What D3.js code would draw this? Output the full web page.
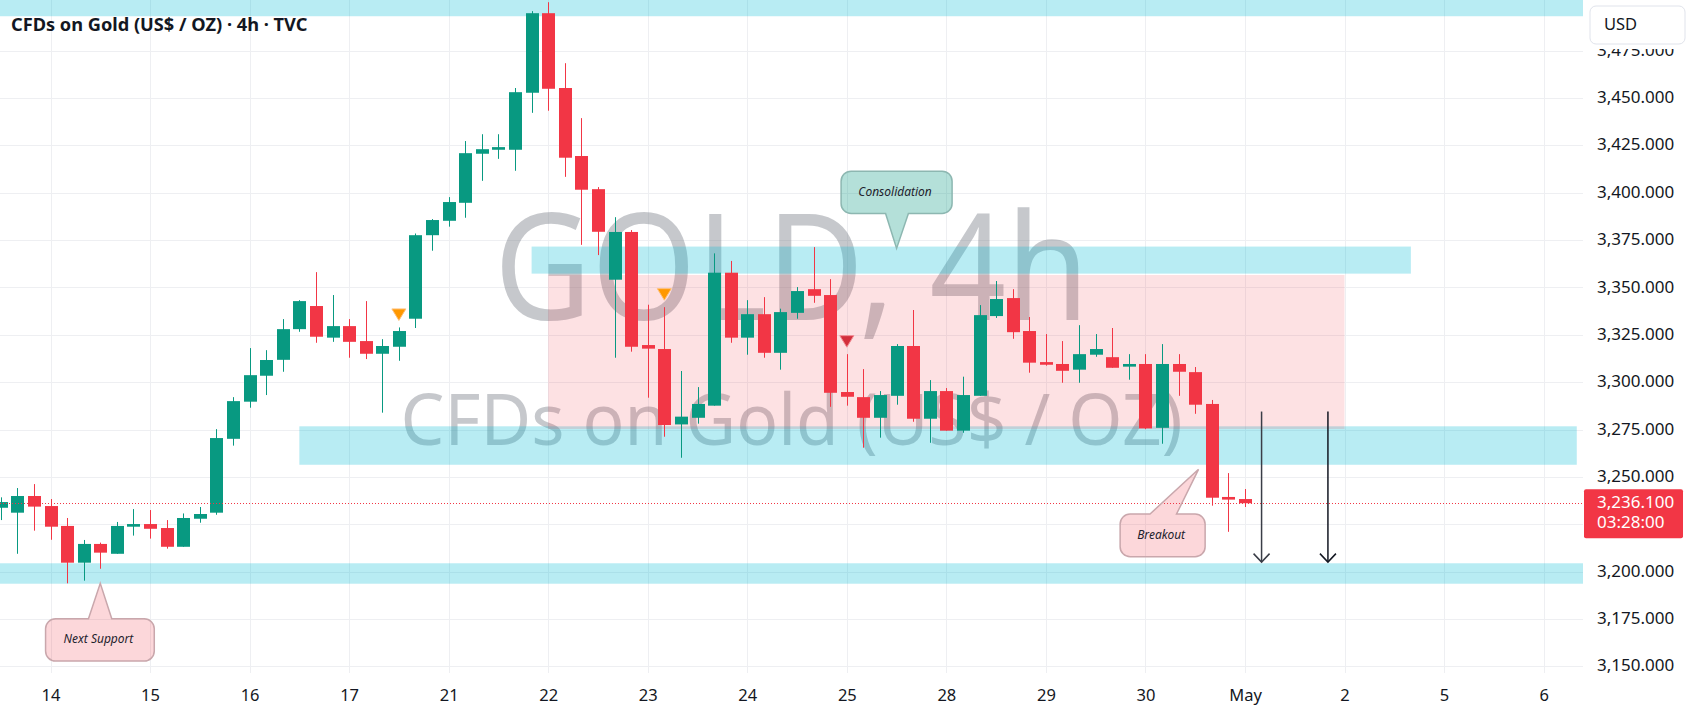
<!DOCTYPE html>
<html>
<head>
<meta charset="utf-8">
<script src="https://cdnjs.cloudflare.com/ajax/libs/d3/7.8.5/d3.min.js"></script>
<style>
  body { margin: 0; background: #ffffff; }
  svg { display: block; font-family: "Noto Sans", sans-serif; }
</style>
</head>
<body>
<div id="chart"></div>
<script>
// 4h candles of TVC:GOLD, first candle sits 3 bars before the open of the 14th
var firstBar = -3;
var opens = [3233.7, 3231.1, 3239.9, 3234.6, 3224.1, 3204.7, 3214.6, 3209.4, 3223.7, 3225.1,
  3223.0, 3213.1, 3227.9, 3231.1, 3270.1, 3289.7, 3303.4, 3311.8, 3328.0, 3340.2,
  3323.5, 3329.6, 3321.7, 3315.0, 3318.7, 3333.5, 3377.6, 3385.2, 3394.7, 3420.6,
  3422.7, 3422.7, 3452.8, 3494.8, 3455.3, 3419.4, 3401.9, 3354.1, 3379.3, 3319.6,
  3317.5, 3277.7, 3281.2, 3287.6, 3357.8, 3323.5, 3335.9, 3315.5, 3336.6, 3349.1,
  3346.0, 3294.8, 3292.1, 3281.2, 3292.8, 3319.1, 3280.7, 3295.3, 3274.4, 3292.8,
  3334.9, 3344.4, 3327.0, 3310.6, 3309.6, 3306.6, 3314.5, 3313.2, 3308.2, 3309.6,
  3275.9, 3309.6, 3305.3, 3288.5, 3239.4, 3238.3];
var highs = [3239.2, 3244.1, 3246.2, 3238.3, 3228.3, 3216.7, 3215.3, 3226.2, 3233.0, 3232.5,
  3227.2, 3230.7, 3234.1, 3275.2, 3292.1, 3318.0, 3316.9, 3333.3, 3343.3, 3358.1,
  3346.0, 3333.3, 3342.8, 3322.7, 3328.9, 3378.5, 3386.1, 3397.7, 3427.3, 3430.9,
  3430.9, 3455.3, 3495.9, 3500.6, 3468.4, 3439.4, 3403.0, 3387.1, 3380.3, 3340.9,
  3339.6, 3305.9, 3297.4, 3368.0, 3364.0, 3343.3, 3344.9, 3338.8, 3350.2, 3371.3,
  3354.4, 3314.8, 3306.9, 3295.3, 3320.1, 3338.1, 3301.1, 3296.9, 3302.9, 3340.7,
  3353.4, 3349.1, 3334.4, 3325.4, 3321.7, 3330.1, 3325.4, 3328.6, 3314.8, 3314.8,
  3320.1, 3314.8, 3308.0, 3290.6, 3252.0, 3243.6];
var lows = [3227.2, 3209.4, 3221.6, 3216.8, 3193.8, 3195.2, 3201.5, 3209.4, 3219.0, 3217.4,
  3212.1, 3213.1, 3225.8, 3230.0, 3266.5, 3286.5, 3293.2, 3305.5, 3326.6, 3320.8,
  3321.3, 3312.9, 3312.2, 3283.9, 3311.3, 3328.6, 3369.4, 3382.1, 3386.8, 3406.3,
  3417.9, 3411.6, 3442.2, 3443.3, 3408.4, 3372.5, 3367.1, 3312.9, 3316.1, 3291.8,
  3271.2, 3260.1, 3278.1, 3287.6, 3320.8, 3314.5, 3312.9, 3306.6, 3333.5, 3341.9,
  3287.0, 3287.6, 3265.4, 3270.7, 3288.1, 3279.1, 3268.0, 3274.4, 3273.3, 3292.8,
  3333.9, 3322.9, 3305.0, 3308.7, 3299.7, 3299.7, 3313.4, 3307.6, 3301.3, 3275.2,
  3267.5, 3292.8, 3283.3, 3234.8, 3221.0, 3234.1];
var closes = [3236.7, 3239.9, 3234.3, 3223.7, 3204.7, 3214.6, 3210.0, 3224.1, 3225.1, 3222.6,
  3213.1, 3228.3, 3230.4, 3270.5, 3290.0, 3303.7, 3311.7, 3328.0, 3342.8, 3324.0,
  3329.6, 3321.3, 3315.0, 3319.1, 3327.0, 3377.6, 3385.6, 3395.1, 3420.9, 3423.0,
  3424.1, 3453.1, 3494.8, 3454.9, 3418.5, 3401.6, 3379.4, 3379.3, 3318.7, 3317.7,
  3277.4, 3281.8, 3288.5, 3357.8, 3323.5, 3335.9, 3315.5, 3337.0, 3348.1, 3345.6,
  3294.4, 3292.3, 3281.2, 3293.2, 3319.1, 3280.7, 3295.3, 3274.4, 3293.2, 3335.4,
  3343.9, 3326.4, 3310.3, 3309.2, 3306.0, 3314.8, 3317.5, 3307.6, 3309.6, 3275.6,
  3309.6, 3305.5, 3288.1, 3239.0, 3238.0, 3236.1];

var dayLabels = ["14", "15", "16", "17", "21", "22", "23", "24", "25", "28", "29", "30", "May", "2", "5", "6"];
var barsPerDay = 6;
var priceTicks = [3150, 3175, 3200, 3225, 3250, 3275, 3300, 3325, 3350, 3375, 3400, 3425, 3450, 3475];
var lastPrice = 3236.1;
var countdown = "03:28:00";

// drawn zones (bar index from / to, price low / high)
var zoneFrom = [-5, 15, 29, -5];
var zoneTo = [100, 92, 82, 100];
var zoneLow = [3193.6, 3256.4, 3357.3, 3493.2];
var zoneHigh = [3204.4, 3276.7, 3371.6, 3520];
var rangeFrom = 30, rangeTo = 78, rangeLow = 3275.3, rangeHigh = 3356.6;

// markers above candles and the two target arrows
var markerBars = [21, 37, 48];
var markerKinds = ["orange", "orange", "red"];
var arrowBars = [73, 77];
var arrowFrom = 3284.5, arrowTo = 3205;

// callouts: text, anchor bar, anchor price
var calloutTexts = ["Consolidation", "Next Support", "Breakout"];
var calloutBars = [51, 3, 69.2];
var calloutPrices = [3370.6, 3193.8, 3254.0];

var svgWidth = 1691;
var svgHeight = 716;
var paneRight = 1583;
var paneBottom = 673;

var svg = d3.select("#chart")
  .append("svg")
  .attr("width", svgWidth)
  .attr("height", svgHeight);

svg.append("defs").append("clipPath")
  .attr("id", "pane")
  .append("rect")
  .attr("width", paneRight)
  .attr("height", paneBottom);

var xScale = d3.scaleLinear()
  .domain([0, 90])
  .range([50.5, 50.5 + 16.59 * 90]);

var yScale = d3.scaleLinear()
  .domain([3150, 3475])
  .range([666.3, 50.7]);

var pane = svg.append("g").attr("clip-path", "url(#pane)");

// grid
pane.selectAll(".hgrid")
  .data(priceTicks)
  .enter()
  .append("line")
  .attr("x1", 0)
  .attr("x2", paneRight)
  .attr("y1", d => Math.round(yScale(d)) + 0.5)
  .attr("y2", d => Math.round(yScale(d)) + 0.5)
  .attr("stroke", "#eeeff2");

var dayTicks = d3.range(dayLabels.length).map(i => i * barsPerDay);

pane.selectAll(".vgrid")
  .data(dayTicks)
  .enter()
  .append("line")
  .attr("x1", d => Math.round(xScale(d)) + 0.5)
  .attr("x2", d => Math.round(xScale(d)) + 0.5)
  .attr("y1", 0)
  .attr("y2", paneBottom)
  .attr("stroke", "#eeeff2");

// watermark
pane.append("text")
  .attr("x", paneRight / 2)
  .attr("y", 320)
  .attr("text-anchor", "middle")
  .attr("font-size", 148)
  .attr("textLength", 595)
  .attr("lengthAdjust", "spacingAndGlyphs")
  .attr("fill", "rgba(120,123,134,0.42)")
  .text("GOLD, 4h");

pane.append("text")
  .attr("x", paneRight / 2)
  .attr("y", 445)
  .attr("text-anchor", "middle")
  .attr("font-size", 72)
  .attr("textLength", 782)
  .attr("lengthAdjust", "spacingAndGlyphs")
  .attr("fill", "rgba(120,123,134,0.42)")
  .text("CFDs on Gold (US$ / OZ)");

// zones
pane.selectAll(".zone")
  .data(zoneLow)
  .enter()
  .append("rect")
  .attr("x", (d, i) => xScale(zoneFrom[i]))
  .attr("width", (d, i) => xScale(zoneTo[i]) - xScale(zoneFrom[i]))
  .attr("y", (d, i) => yScale(zoneHigh[i]))
  .attr("height", (d, i) => yScale(d) - yScale(zoneHigh[i]))
  .attr("fill", "rgba(0,188,212,0.28)");

pane.append("rect")
  .attr("x", xScale(rangeFrom))
  .attr("width", xScale(rangeTo) - xScale(rangeFrom))
  .attr("y", yScale(rangeHigh))
  .attr("height", yScale(rangeLow) - yScale(rangeHigh))
  .attr("fill", "rgba(242,54,69,0.15)");

// candles
var bars = opens.map(function(o, i) {
  return { k: firstBar + i, o: o, h: highs[i], l: lows[i], c: closes[i] };
});

var candle = pane.selectAll(".candle")
  .data(bars)
  .enter()
  .append("g")
  .attr("fill", d => d.c >= d.o ? "#089981" : "#f23645")
  .attr("stroke", d => d.c >= d.o ? "#089981" : "#f23645");

candle.append("line")
  .attr("x1", d => Math.round(xScale(d.k)) + 0.5)
  .attr("x2", d => Math.round(xScale(d.k)) + 0.5)
  .attr("y1", d => yScale(d.h))
  .attr("y2", d => yScale(d.l))
  .attr("stroke-width", 1);

candle.append("rect")
  .attr("x", d => Math.round(xScale(d.k)) - 6)
  .attr("width", 13)
  .attr("y", d => yScale(Math.max(d.o, d.c)))
  .attr("height", d => Math.max(1.5, Math.abs(yScale(d.o) - yScale(d.c))))
  .attr("stroke", "none");

// markers
pane.selectAll(".marker")
  .data(markerBars)
  .enter()
  .append("path")
  .attr("d", function(d) {
    var cx = xScale(d);
    var tip = yScale(highs[d - firstBar]) - 7;
    return "M" + (cx - 7) + "," + (tip - 11.5) + "L" + (cx + 7) + "," + (tip - 11.5) + "L" + cx + "," + tip + "Z";
  })
  .attr("fill", (d, i) => markerKinds[i] == "orange" ? "#ff9800" : "#d32f3c")
  .attr("stroke", (d, i) => markerKinds[i] == "orange" ? "#ffc078" : "#f28b93")
  .attr("stroke-width", 1);

// last price line
pane.append("line")
  .attr("x1", 0)
  .attr("x2", paneRight)
  .attr("y1", Math.round(yScale(lastPrice)) + 0.5)
  .attr("y2", Math.round(yScale(lastPrice)) + 0.5)
  .attr("stroke", "#f23645")
  .attr("stroke-dasharray", "1,2");

// target arrows
var arrows = pane.selectAll(".arrow")
  .data(arrowBars)
  .enter()
  .append("g")
  .attr("stroke", (d, i) => i == 0 ? "#3a3d47" : "#131722")
  .attr("stroke-width", 1.5)
  .attr("fill", "none");

arrows.append("line")
  .attr("x1", d => xScale(d))
  .attr("x2", d => xScale(d))
  .attr("y1", yScale(arrowFrom))
  .attr("y2", yScale(arrowTo));

arrows.append("path")
  .attr("d", d => "M" + (xScale(d) - 8) + "," + (yScale(arrowTo) - 8.5) + "L" + xScale(d) + "," + yScale(arrowTo) + "L" + (xScale(d) + 8) + "," + (yScale(arrowTo) - 8.5));

// callouts
function calloutPath(x0, y0, x1, y1, r, a, b, tx, ty, onTop) {
  var p = d3.path();
  p.moveTo(x0 + r, y0);
  if (onTop) { p.lineTo(a, y0); p.lineTo(tx, ty); p.lineTo(b, y0); }
  p.lineTo(x1 - r, y0);
  p.arcTo(x1, y0, x1, y0 + r, r);
  p.lineTo(x1, y1 - r);
  p.arcTo(x1, y1, x1 - r, y1, r);
  if (!onTop) { p.lineTo(b, y1); p.lineTo(tx, ty); p.lineTo(a, y1); }
  p.lineTo(x0 + r, y1);
  p.arcTo(x0, y1, x0, y1 - r, r);
  p.lineTo(x0, y0 + r);
  p.arcTo(x0, y0, x0 + r, y0, r);
  p.closePath();
  return p.toString();
}

// box offsets from the pointer tip
var calloutBoxes = [
  { l: -55.5, r: 55.5, t: -77.3, b: -35, a: -11, bb: 11.8, top: false, fill: "rgba(8,153,129,0.3)", line: "#8db7b1" },
  { l: -54.7, r: 54, t: 35.4, b: 77.7, a: -11.8, bb: 11.5, top: true, fill: "rgba(242,54,69,0.2)", line: "#c9a7ac" },
  { l: -78.4, r: 6.6, t: 44.7, b: 87.4, a: -48.5, bb: -22, top: true, fill: "rgba(242,54,69,0.2)", line: "#c9a7ac" }
];

calloutTexts.forEach(function(label, i) {
  var tx = xScale(calloutBars[i]);
  var ty = yScale(calloutPrices[i]);
  var c = calloutBoxes[i];
  svg.append("path")
    .attr("d", calloutPath(tx + c.l, ty + c.t, tx + c.r, ty + c.b, 10, tx + c.a, tx + c.bb, tx, ty, c.top))
    .attr("fill", c.fill)
    .attr("stroke", c.line)
    .attr("stroke-width", 1.5);
  svg.append("text")
    .attr("x", tx + (c.l + c.r) / 2 - 1.5)
    .attr("y", ty + (c.t + c.b) / 2)
    .attr("dominant-baseline", "middle")
    .attr("text-anchor", "middle")
    .attr("font-size", 12)
    .attr("font-style", "italic")
    .attr("fill", "#1e222d")
    .text(label);
});

// title
svg.append("text")
  .attr("x", 11)
  .attr("y", 31)
  .attr("font-size", 18.2)
  .attr("font-weight", "bold")
  .attr("fill", "#131722")
  .text("CFDs on Gold (US$ / OZ) \u00b7 4h \u00b7 TVC");

// price axis
var rightAxis = d3.axisRight(yScale)
  .tickValues(priceTicks)
  .tickFormat(d3.format(",.3f"))
  .tickSize(0)
  .tickPadding(14);

var priceAxis = svg.append("g")
  .attr("transform", `translate(${paneRight}, 0)`)
  .call(rightAxis);

priceAxis.select(".domain").remove();
priceAxis.selectAll("text")
  .attr("font-family", "Noto Sans")
  .attr("font-size", 17)
  .attr("fill", "#131722")
  .attr("dy", null)
  .attr("dominant-baseline", "middle");

// USD box hides the upper half of the top label
svg.append("rect")
  .attr("x", paneRight + 1)
  .attr("y", 0)
  .attr("width", svgWidth - paneRight)
  .attr("height", 49)
  .attr("fill", "#ffffff");

svg.append("rect")
  .attr("x", 1590)
  .attr("y", 6)
  .attr("width", 95)
  .attr("height", 38)
  .attr("rx", 6)
  .attr("fill", "#ffffff")
  .attr("stroke", "#e0e3eb");

svg.append("text")
  .attr("x", 1604)
  .attr("y", 25.5)
  .attr("dominant-baseline", "middle")
  .attr("font-size", 16.5)
  .attr("fill", "#131722")
  .text("USD");

// last price label
var lastY = yScale(lastPrice);
svg.append("rect")
  .attr("x", 1584)
  .attr("y", lastY - 14)
  .attr("width", 99)
  .attr("height", 49)
  .attr("rx", 2)
  .attr("fill", "#f23645");

svg.append("text")
  .attr("x", 1597)
  .attr("y", lastY)
  .attr("dominant-baseline", "middle")
  .attr("font-size", 17)
  .attr("fill", "#ffffff")
  .text(d3.format(",.3f")(lastPrice));

svg.append("text")
  .attr("x", 1597)
  .attr("y", lastY + 20.5)
  .attr("dominant-baseline", "middle")
  .attr("font-size", 17)
  .attr("fill", "#ffffff")
  .text(countdown);

// time axis
var bottomAxis = d3.axisBottom(xScale)
  .tickValues(dayTicks)
  .tickFormat((d, i) => dayLabels[i])
  .tickSize(0);

var timeAxis = svg.append("g")
  .attr("transform", "translate(0, 697)")
  .call(bottomAxis);

timeAxis.select(".domain").remove();
timeAxis.selectAll("text")
  .attr("y", 0)
  .attr("dy", null)
  .attr("dominant-baseline", "middle")
  .attr("font-family", "Noto Sans")
  .attr("font-size", 16.5)
  .attr("fill", "#131722");
</script>
</body>
</html>
